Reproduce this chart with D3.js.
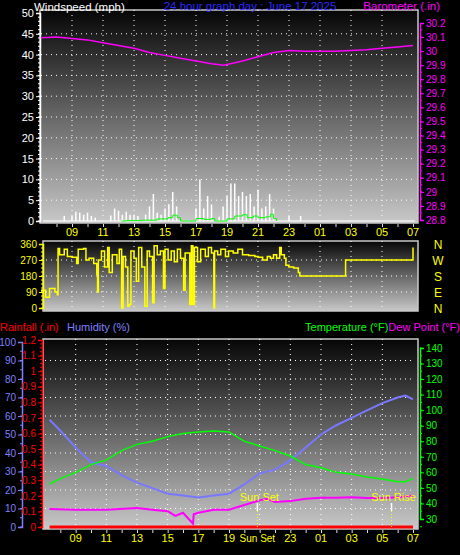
<!DOCTYPE html>
<html><head><meta charset="utf-8">
<script src="https://cdn.jsdelivr.net/npm/d3@7"></script>
<style>body{margin:0;background:#000}svg{display:block;font-family:"Liberation Sans",Arial,sans-serif}</style>
</head><body><svg id="c" width="460" height="555"></svg>
<script>
// hours are counted from 07:00 (7) to 07:00 next day (31)
const hourLabels = ["09","11","13","15","17","19","21","23","01","03","05","07"];
const labelHours = [9,11,13,15,17,19,21,23,25,27,29,31];

// wind gusts, one value per 15 minutes from 07:00
const windGust = [0,0,0,0,0,0,1.2,0,1.2,2.2,2,1.5,2,1.2,0.8,0,0,0,1.3,3,2.5,1.5,2.2,1.5,1.5,1.2,0,1.5,3.5,6.5,2,1.5,3,4,7,3.5,0,0,0,0,3,10,3,6,4,0,1,3.5,6,9,9,6,7,6,6.5,3.5,7.5,3,3.5,6.5,3,0,0,0,1.2,0,0,1.2];
const windAvgT = [12.2,12.5,13.5,14.5,15.2,15.5,15.8,16.0,17.0,17.5,18.0,18.2,19.0,19.5,20.0,20.3,20.7,21.0,21.5,21.8,22.0,22.2];
const windAvgV = [0,0.1,0.2,0.5,0.8,1.4,0.8,0,0.6,0.4,0.6,0,0.5,1.2,1.5,0.8,1.2,0.8,1.0,1.6,0.6,0];

const baroT = [7,8,9,10,11,12,13,14,15,16,17,18,18.8,20,21,22,23,24,25,26,27,28,29,30,31];
const baroV = [30.095,30.1,30.09,30.08,30.06,30.04,30.02,29.99,29.97,29.95,29.93,29.91,29.90,29.93,29.96,29.99,30.005,30.0,30.0,30.0,30.005,30.01,30.02,30.03,30.04];

const dirT = [7.0,7.3,7.55,7.9,8.05,8.1,8.2,8.5,8.7,9.0,9.3,9.4,9.75,9.9,10.1,10.4,10.6,10.65,10.7,10.9,11.1,11.3,11.4,11.6,11.9,12.05,12.2,12.3,12.45,12.6,12.7,12.8,13.0,13.15,13.3,13.5,13.7,13.85,14.0,14.2,14.3,14.5,14.7,14.9,15.0,15.2,15.4,15.6,15.8,16.0,16.2,16.3,16.6,16.7,16.8,16.9,17.1,17.3,17.6,17.8,18.0,18.15,18.2,18.4,18.6,18.9,19.1,19.4,19.7,20.0,20.4,20.8,21.0,21.3,21.6,21.8,22.0,22.2,22.4,22.5,22.7,22.8,23.0,23.3,23.6,23.7,26.6,26.65,30.95,31.0];
const dirV = [100,60,110,90,75,335,300,330,290,285,250,330,335,270,280,250,190,90,270,320,230,340,200,300,250,330,0,290,230,10,20,320,280,150,340,230,10,320,290,30,350,300,320,110,330,270,320,260,330,280,100,310,20,350,20,340,260,330,290,340,310,0,320,300,330,290,320,310,330,300,295,290,285,270,290,280,300,280,340,300,280,240,230,225,200,180,180,270,270,340];

const humT = [7.3,8,9,10,11,12,13,14,15,16,17,18,19,20,21,22,23,24,25,26,27,28,29,30,30.5,31];
const humV = [58,52,43,35,33,28,24,21,18,17,16,17,18,23,29,31,36,43,50,55,59,63,67,70,71,69];
const tempT = [7.3,8,9,10,11,12,13,14,15,16,17,18,19,20,21,22,23,24,25,26,27,28,29,30,30.5,31];
const tempV = [52.5,56,60,65,68,74,78,80,83,85,86,86.6,86,80,77,74,70.5,65,63,60,59,57,55.7,54,54,56];
const dewT = [7.3,9,11,13,14,15,15.5,16,16.65,16.7,17,18,19,20,21,21.5,22,23,24,25,26,27,28,29,30,31];
const dewV = [36.5,36,36,37,36,35,32,34,27,33,34,36,36,39,42,43,41,41.5,43,43.6,43.6,44,43.5,43.5,44,45];
const rainT = [7.3,31];
const rainV = [0,0];
const sunSet = 20.85, sunRise = 29.6;

const svg = d3.select("#c");
const defs = svg.append("defs");
const g = defs.append("linearGradient").attr("id","bg").attr("x1",0).attr("y1",0).attr("x2",0).attr("y2",1);
g.append("stop").attr("offset","0%").attr("stop-color","#060606");
g.append("stop").attr("offset","100%").attr("stop-color","#c8c8c8");

const txt = (x,y,s,c,anchor,size) => svg.append("text").attr("x",x).attr("y",y).attr("fill",c)
  .attr("font-size",size||11).attr("text-anchor",anchor||"start").text(s);

function panel(x0,y0,x1,y1){
  svg.append("rect").attr("x",x0).attr("y",y0).attr("width",x1-x0).attr("height",y1-y0)
    .attr("fill","url(#bg)").attr("stroke","#c8c8c8").attr("stroke-width",1.5);
}
function grid(x, y, yTicks, y0, y1){
  svg.append("g").selectAll("line").data(labelHours.slice(0,-1)).join("line")
    .attr("x1",d=>x(d)).attr("x2",d=>x(d)).attr("y1",y0).attr("y2",y1)
    .attr("stroke","#fff").attr("stroke-dasharray","1,4");
  svg.append("g").selectAll("line").data(yTicks).join("line")
    .attr("x1",x.range()[0]).attr("x2",x.range()[1]).attr("y1",d=>y(d)).attr("y2",d=>y(d))
    .attr("stroke","#fff").attr("stroke-dasharray","1,4");
}
function yAxis(scale, xPos, side, ticks, fmt, color, minor, size){
  const ax = (side==="left"?d3.axisLeft(scale):d3.axisRight(scale)).tickValues(ticks).tickFormat(fmt).tickSize(4).tickPadding(2);
  const a = svg.append("g").attr("transform",`translate(${xPos},0)`).call(ax);
  a.selectAll("text").attr("fill",color).attr("font-size",size||11).attr("font-family","Liberation Sans, Arial");
  a.selectAll("line").attr("stroke",color);
  a.select(".domain").attr("stroke",color).attr("stroke-width",1.5);
  if(minor){
    a.append("g").selectAll("line").data(minor).join("line")
      .attr("x1",0).attr("x2",side==="left"?-2:2).attr("y1",d=>scale(d)).attr("y2",d=>scale(d)).attr("stroke",color);
  }
  return a;
}
function xAxis(x, yPos, skip){
  const a = svg.append("g").attr("transform",`translate(0,${yPos})`)
    .call(d3.axisBottom(x).tickValues(d3.range(8,32)).tickFormat("").tickSize(3));
  a.select(".domain").remove();
  a.selectAll("line").attr("stroke","#ddd");
  svg.append("g").selectAll("text").data(labelHours.filter(h=>h!==skip)).join("text")
    .attr("x",d=>x(d)).attr("y",yPos+12).attr("text-anchor","middle").attr("fill","#ffff00")
    .attr("font-size",11).text(d=>hourLabels[labelHours.indexOf(d)]);
}

// ---- top panel: windspeed + barometer
const xTop = d3.scaleLinear().domain([7,31]).range([41,413]);
const yWind = d3.scaleLinear().domain([0,50]).range([221,13]);
const yBaro = d3.scaleLinear().domain([28.8,30.2]).range([220,23]);
panel(40,10,418,223);
grid(xTop,yWind,d3.range(5,50,5),10,223);
yAxis(yWind,40,"left",d3.range(0,51,5),d3.format("d"),"#fff",d3.range(0,50,1));
yAxis(yBaro,420,"right",d3.range(28.8,30.25,0.1),d=>d3.format(".1f")(d).replace(/\.0$/,""),"#ff00ff",d3.range(28.8,30.2,0.05),10);
svg.append("line").attr("x1",43).attr("x2",415).attr("y1",yWind(0)).attr("y2",yWind(0)).attr("stroke","#eee").attr("stroke-width",1.5);
svg.append("g").selectAll("line").data(windGust).join("line")
  .attr("x1",(d,i)=>xTop(7+i*0.25)).attr("x2",(d,i)=>xTop(7+i*0.25))
  .attr("y1",yWind(0)).attr("y2",d=>yWind(d)).attr("stroke","#fff").attr("stroke-width",1.5);
svg.append("path").datum(windAvgT.map((t,i)=>[t,windAvgV[i]]))
  .attr("d",d3.line().x(d=>xTop(d[0])).y(d=>yWind(d[1])).curve(d3.curveStepAfter))
  .attr("fill","none").attr("stroke","#00ff00").attr("stroke-width",1);
svg.append("path").datum(baroT.map((t,i)=>[t,baroV[i]]))
  .attr("d",d3.line().x(d=>xTop(d[0])).y(d=>yBaro(d[1])))
  .attr("fill","none").attr("stroke","#ff00ff").attr("stroke-width",1.5);
xAxis(xTop,224);
txt(34,11,"Windspeed (mph)","#fff","start",11.5);
txt(250,10,"24 hour graph day : June 17 2025","#2a2aff","middle",11.5);
txt(440,10,"Barometer (.in)","#ff00ff","end",11.5);

// ---- wind direction
const yDir = d3.scaleLinear().domain([0,360]).range([308,244]);
panel(43,241,418,311);
grid(xTop,yDir,[90,180,270],241,311);
yAxis(yDir,43,"left",[0,90,180,270,360],d3.format("d"),"#ffff00",d3.range(0,360,22.5),10);
svg.append("path").datum(dirT.map((t,i)=>[t,dirV[i]]))
  .attr("d",d3.line().x(d=>xTop(d[0])).y(d=>yDir(d[1])).curve(d3.curveStepAfter))
  .attr("fill","none").attr("stroke","#ffff00").attr("stroke-width",1.5);
["N","W","S","E","N"].forEach((s,i)=>txt(438,[360,270,180,90,0].map(yDir)[i]+5,s,"#ffff00","middle",12));

// ---- bottom panel: humidity, rainfall, temperature, dew point
const xBot = d3.scaleLinear().domain([7,31]).range([45,413]);
const yHum = d3.scaleLinear().domain([0,100]).range([527,342]);
const yRain = d3.scaleLinear().domain([0,1.2]).range([527,340]);
const yTemp = d3.scaleLinear().domain([30,140]).range([519,348]);
panel(43,339,418,529);
grid(xBot,yHum,d3.range(10,100,10),339,529);
yAxis(yHum,22,"left",d3.range(0,101,10),d3.format("d"),"#8080ff",d3.range(0,100,5),10);
yAxis(yRain,42,"left",d3.range(0,1.25,0.1),d=>d3.format(".1f")(d).replace(/\.0$/,""),"#ff0000",d3.range(0,1.2,0.025),10);
yAxis(yTemp,420,"right",d3.range(30,141,10),d3.format("d"),"#00ff00",d3.range(25,145,5),10);
const lineB = (T,V,y,c,w) => svg.append("path").datum(T.map((t,i)=>[t,V[i]]))
  .attr("d",d3.line().x(d=>xBot(d[0])).y(d=>y(d[1]))).attr("fill","none").attr("stroke",c).attr("stroke-width",w);
lineB(rainT,rainV,yRain,"#ff0000",3);
lineB(dewT,dewV,yTemp,"#ff00ff",2);
lineB(humT,humV,yHum,"#7878ff",2);
lineB(tempT,tempV,yTemp,"#00ff00",1.5);
[[sunSet,"Sun Set"],[sunRise,"Sun Rise"]].forEach(([t,s])=>{
  svg.append("line").attr("x1",xBot(t)).attr("x2",xBot(t)).attr("y1",503).attr("y2",511).attr("stroke","#fff").attr("stroke-width",1.5);
  svg.append("line").attr("x1",xBot(t)).attr("x2",xBot(t)).attr("y1",511).attr("y2",528).attr("stroke","#ffff00").attr("stroke-dasharray","1,2");
  txt(xBot(t)+2,501,s,"#ffff00","middle");
});
xAxis(xBot,530,21);
txt(xBot(sunSet),542,"Sun Set","#ffff00","middle",10);
txt(0,331,"Rainfall (.in)","#ff0000","start",11);
txt(67,331,"Humidity (%)","#8080ff","start",11);
const tp = svg.append("text").attr("x",460).attr("y",331).attr("text-anchor","end").attr("font-size",11);
tp.append("tspan").attr("fill","#00ff00").text("Temperature (°F)");
tp.append("tspan").attr("fill","#ff00ff").text("Dew Point (°F)");
</script></body></html>
